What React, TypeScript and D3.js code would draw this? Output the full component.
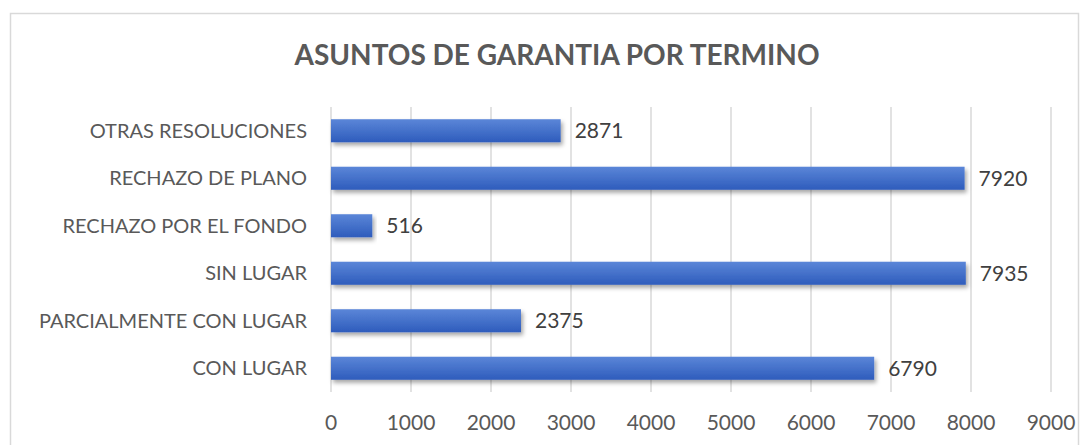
import React, { useEffect, useRef } from 'react';
import * as d3 from 'd3';

const categories = [
  'OTRAS RESOLUCIONES',
  'RECHAZO DE PLANO',
  'RECHAZO POR EL FONDO',
  'SIN LUGAR',
  'PARCIALMENTE CON LUGAR',
  'CON LUGAR',
];
const values = [2871, 7920, 516, 7935, 2375, 6790];
const xTicks = [0, 1000, 2000, 3000, 4000, 5000, 6000, 7000, 8000, 9000];
const title = 'ASUNTOS DE GARANTIA POR TERMINO';

const App = () => {
  const ref = useRef<SVGSVGElement>(null);

  useEffect(() => {
    const svg = d3.select(ref.current);
    svg.selectAll('*').remove();

    const width = 1089;
    const height = 445;
    const font = 'Lato, "Open Sans", sans-serif';
    const textColor = '#595959';

    // chart frame
    svg.append('rect')
      .attr('x', 10.5).attr('y', 13.5)
      .attr('width', 1068).attr('height', 460)
      .attr('fill', 'white').attr('stroke', '#d9d9d9').attr('stroke-width', 1.5);

    const defs = svg.append('defs');
    const grad = defs.append('linearGradient')
      .attr('id', 'barGrad').attr('x1', 0).attr('y1', 0).attr('x2', 0).attr('y2', 1);
    grad.append('stop').attr('offset', '0%').attr('stop-color', '#5b86d8');
    grad.append('stop').attr('offset', '100%').attr('stop-color', '#2e5cbc');

    const shadow = defs.append('filter').attr('id', 'shadow')
      .attr('x', '-5%').attr('y', '-30%').attr('width', '115%').attr('height', '180%');
    shadow.append('feDropShadow')
      .attr('dx', 2).attr('dy', 3).attr('stdDeviation', 2)
      .attr('flood-color', '#000').attr('flood-opacity', 0.35);

    const x = d3.scaleLinear().domain([0, 9000]).range([331, 1051]);
    const y = d3.scaleBand().domain(categories).range([107, 392]).paddingInner(0.515).paddingOuter(0.2575);

    // gridlines
    svg.append('g').selectAll('line')
      .data(xTicks)
      .join('line')
      .attr('x1', d => x(d)).attr('x2', d => x(d))
      .attr('y1', 107).attr('y2', 392)
      .attr('stroke', '#d9d9d9').attr('stroke-width', 1.5);

    // bars
    svg.append('g').selectAll('rect')
      .data(values)
      .join('rect')
      .attr('x', x(0))
      .attr('y', (d, i) => y(categories[i])!)
      .attr('width', d => x(d) - x(0))
      .attr('height', y.bandwidth())
      .attr('fill', 'url(#barGrad)')
      .attr('filter', 'url(#shadow)');

    // value labels
    svg.append('g').selectAll('text')
      .data(values)
      .join('text')
      .attr('x', d => x(d) + 14)
      .attr('y', (d, i) => y(categories[i])! + y.bandwidth() / 2)
      .attr('dy', '0.35em')
      .attr('font-family', font).attr('font-size', 21)
      .attr('fill', '#404040')
      .text(d => d);

    // category labels
    svg.append('g').selectAll('text')
      .data(categories)
      .join('text')
      .attr('x', 307)
      .attr('y', d => y(d)! + y.bandwidth() / 2)
      .attr('dy', '0.35em')
      .attr('text-anchor', 'end')
      .attr('font-family', font).attr('font-size', 20)
      .attr('fill', textColor)
      .text(d => d);

    // x tick labels
    svg.append('g').selectAll('text')
      .data(xTicks)
      .join('text')
      .attr('x', d => x(d))
      .attr('y', 423)
      .attr('dy', '0.35em')
      .attr('text-anchor', 'middle')
      .attr('font-family', font).attr('font-size', 21)
      .attr('fill', textColor)
      .text(d => d);

    // title
    svg.append('text')
      .attr('x', 557).attr('y', 55)
      .attr('dy', '0.35em')
      .attr('text-anchor', 'middle')
      .attr('font-family', font).attr('font-size', 28).attr('font-weight', 'bold')
      .attr('fill', textColor)
      .text(title);

    svg.attr('width', width).attr('height', height);
  }, []);

  return (
    <svg ref={ref} width={1089} height={445}
      style={{ position: 'absolute', left: 0, top: 0, display: 'block' }} />
  );
};

export default App;
